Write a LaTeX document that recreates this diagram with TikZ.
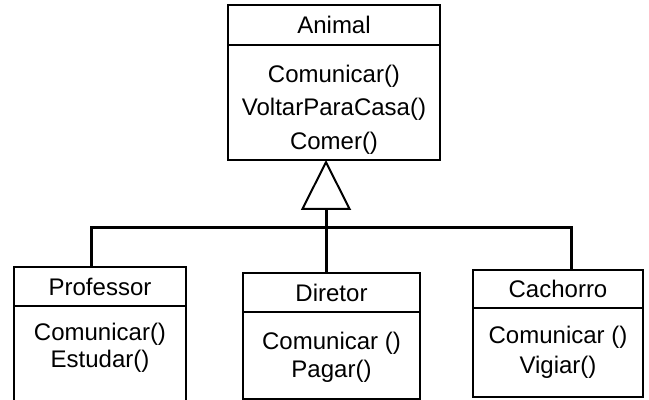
\documentclass[tikz,border=0pt]{standalone}
\usepackage{fontspec}
\setmainfont{Liberation Sans}
\usetikzlibrary{positioning,arrows.meta}

\begin{document}
\begin{tikzpicture}[x=0.5pt,y=-0.5pt,>={Triangle[open,length=25pt,width=25pt,line width=1pt]},
box/.style={draw,line width=1.1pt,inner sep=0pt,outer sep=0pt,font=\fontsize{12}{14}\selectfont},
ops/.style={align=center,inner sep=0pt},
link/.style={line width=1.5pt}]
\useasboundingbox (0,0) rectangle (649,400);
% superclass
\node[box,minimum width=106pt,minimum height=20pt] (animal) at (334,25) {Animal};
\node[box,minimum width=106pt,minimum height=57.5pt,below=0pt of animal] (animalb) {};
\node[ops,font=\fontsize{12}{16.75}\selectfont,below=9.75pt of animalb.north] (animalm)
  {Comunicar()\\VoltarParaCasa()\\Comer()};
% subclasses
\node[box,minimum width=86pt,minimum height=19.5pt] (prof) at (100,286.5) {Professor};
\node[box,minimum width=86pt,minimum height=49.5pt,below=0pt of prof] (profb) {};
\node[ops,font=\fontsize{12}{13.75}\selectfont,below=8.25pt of profb.north] (profm)
  {Comunicar()\\Estudar()};
\node[box,minimum width=88.5pt,minimum height=19.5pt] (dir) at (331.5,292.5) {Diretor};
\node[box,minimum width=88.5pt,minimum height=43.5pt,below=0pt of dir] (dirb) {};
\node[ops,font=\fontsize{12}{14}\selectfont,below=9.75pt of dirb.north] (dirm)
  {Comunicar ()\\Pagar()};
\node[box,minimum width=85pt,minimum height=19pt] (cach) at (558,289) {Cachorro};
\node[box,minimum width=85pt,minimum height=44.5pt,below=0pt of cach] (cachb) {};
\node[ops,font=\fontsize{12}{15}\selectfont,below=8.75pt of cachb.north] (cachm)
  {Comunicar ()\\Vigiar()};
% inheritance
\coordinate (bus) at (326,228);
\coordinate (busl) at (91,228);
\coordinate (busr) at (571,228);
\draw[link] (busl |- prof.north) -- (busl) -- (busr) -- (busr |- cach.north);
\draw[link] (bus |- dir.north) -- (bus);
\draw[link,->] (bus) -- (bus |- animalb.south);
\end{tikzpicture}
\end{document}
